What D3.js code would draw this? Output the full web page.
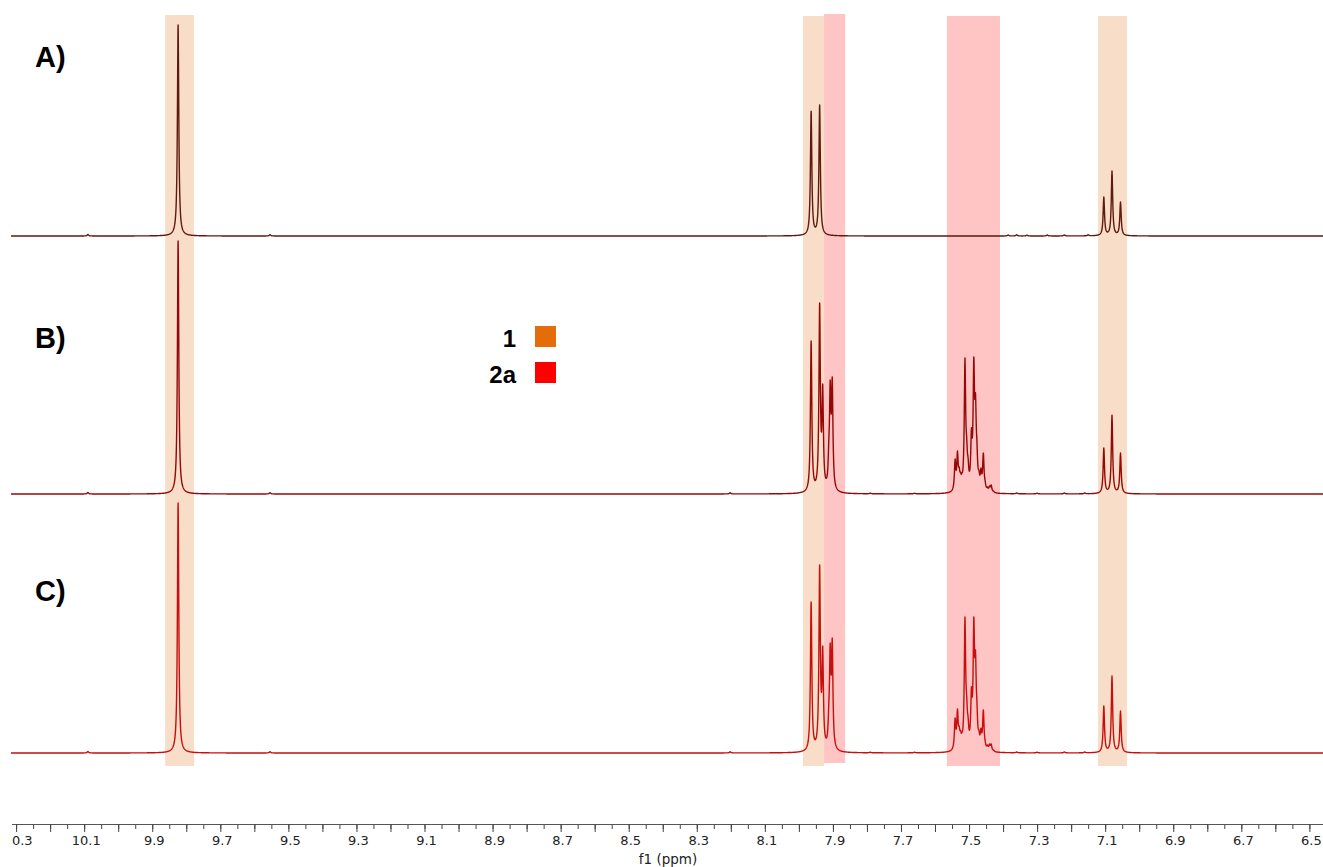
<!DOCTYPE html>
<html>
<head>
<meta charset="utf-8">
<script src="https://cdn.jsdelivr.net/npm/d3@7/dist/d3.min.js"></script>
<style>
  body { margin: 0; background: #fff; }
  svg { display: block; }
</style>
</head>
<body>
<svg id="chart" width="1323" height="867"></svg>
<script>
// ---- data -------------------------------------------------------------
// Peak lists: [chemical shift (ppm), relative intensity (singlet of A = 100)]
const spectrumLabels = ["A)", "B)", "C)"];

const peaksA = [
  [10.089, 0.7], [9.824, 100], [9.554, 0.6],
  [7.964, 59.2], [7.939, 62.1],
  [7.385, 0.5], [7.360, 0.6], [7.330, 0.4], [7.270, 0.5], [7.220, 0.5], [7.150, 0.6],
  [7.104, 18.5], [7.080, 30.8], [7.055, 16.1]
];

const peaksB = [
  [10.089, 0.7], [9.824, 119.9], [9.554, 0.6], [8.202, 0.6],
  [7.964, 72.5], [7.939, 90.5], [7.930, 52.1], [7.912, 26.1],
  [7.908, 54.0], [7.902, 55.5], [7.896, 5.7], [7.790, 0.4], [7.660, 0.4],
  [7.541, 16.6], [7.534, 20.4], [7.529, 12.8], [7.525, 10.4], [7.521, 10.0],
  [7.512, 64.5], [7.507, 27.0], [7.503, 17.5], [7.493, 31.3], [7.486, 64.9],
  [7.481, 47.9], [7.477, 25.6], [7.471, 11.4], [7.465, 12.3], [7.458, 19.4],
  [7.453, 6.6], [7.446, 3.3], [7.440, 3.8], [7.435, 4.3], [7.428, 1.4],
  [7.360, 0.5], [7.300, 0.4], [7.220, 0.5], [7.160, 0.5],
  [7.104, 21.8], [7.080, 37.4], [7.055, 19.4]
];

const peaksC = [
  [10.089, 0.7], [9.824, 118.5], [9.554, 0.6], [8.202, 0.6],
  [7.964, 71.6], [7.939, 89.1], [7.930, 50.7], [7.912, 24.2],
  [7.908, 52.1], [7.902, 54.5], [7.896, 6.2], [7.790, 0.4], [7.660, 0.4],
  [7.541, 16.6], [7.534, 20.9], [7.529, 12.8], [7.525, 10.7], [7.521, 9.8],
  [7.512, 64.5], [7.507, 27.5], [7.503, 17.5], [7.493, 31.3], [7.486, 64.5],
  [7.481, 48.8], [7.477, 25.1], [7.471, 10.9], [7.465, 11.8], [7.458, 20.4],
  [7.453, 6.2], [7.446, 3.8], [7.440, 4.3], [7.435, 4.3], [7.428, 1.4],
  [7.360, 0.5], [7.300, 0.4], [7.220, 0.5], [7.160, 0.5],
  [7.104, 22.3], [7.080, 36.5], [7.055, 19.9]
];

// Assignment regions (ppm from, ppm to) and the compound they belong to
const bandRanges = [[9.862, 9.777], [7.988, 7.926], [7.926, 7.864], [7.565, 7.409], [7.121, 7.036]];
const bandCompounds = ["1", "1", "2a", "2a", "1"];

const legendLabels = ["1", "2a"];

// Axis: major ticks every 0.1 ppm, minor every 0.05 ppm, labels on every other major
const axisTickValues = d3.range(103, 64, -1).map(v => v / 10);
const axisMinorValues = d3.range(207, 129, -1).map(v => v / 20);
const tickLabels = ["10.3", "10.1", "9.9", "9.7", "9.5", "9.3", "9.1", "8.9", "8.7", "8.5",
                    "8.3", "8.1", "7.9", "7.7", "7.5", "7.3", "7.1", "6.9", "6.7", "6.5"];
const axisTitle = "f1 (ppm)";

// ---- layout & style ---------------------------------------------------
const W = 1323, H = 867;
const plotLeft = 11, plotRight = 1323;
const baselines = [236, 494, 753];
const labelBaselines = [67, 348, 601];
const lineColors = ["#5e1a0e", "#960808", "#c80e0e"];
const compoundColors = { "1": "#e46c0a", "2a": "#ff0000" };
const bandFills = { "1": "#f8dec9", "2a": "#ffc4c4" };
const bandExtents = [[15, 766], [16, 766], [14, 763], [16, 766], [16, 766]];
const axisY = 824;
const hwhm = 0.0024; // Lorentzian half width (ppm)

const svg = d3.select("#chart");
const x = d3.scaleLinear().domain([10.315, 6.46]).range([plotLeft, plotRight]);

// ---- bands ------------------------------------------------------------
svg.append("g").selectAll("rect")
  .data(bandRanges)
  .join("rect")
  .attr("x", d => x(d[0]))
  .attr("width", d => x(d[1]) - x(d[0]))
  .attr("y", (d, i) => bandExtents[i][0])
  .attr("height", (d, i) => bandExtents[i][1] - bandExtents[i][0])
  .attr("fill", (d, i) => bandFills[bandCompounds[i]]);

// ---- spectra ----------------------------------------------------------
const lor = d => 1 / (1 + (d / hwhm) * (d / hwhm));

// amplitudes so that the summed line shape reaches each listed intensity
function amplitudes(peaks) {
  const a = peaks.map(p => p[1]);
  for (let it = 0; it < 300; it++) {
    for (let i = 0; i < peaks.length; i++) {
      let s = 0;
      for (let j = 0; j < peaks.length; j++) {
        if (j !== i) s += a[j] * lor(peaks[i][0] - peaks[j][0]);
      }
      a[i] = Math.max(0, peaks[i][1] - s);
    }
  }
  return a;
}

function lineShape(peaks) {
  const amps = amplitudes(peaks);
  const [d0, d1] = x.domain();
  const step = (d0 - d1) / ((plotRight - plotLeft) * 4);
  const pts = d3.range(d0, d1 - step / 2, -step).concat(peaks.map(p => p[0]));
  pts.sort((a, b) => b - a);
  return pts.map(p => {
    let s = 0;
    for (let j = 0; j < peaks.length; j++) s += amps[j] * lor(p - peaks[j][0]);
    return [p, s];
  });
}

[peaksA, peaksB, peaksC].forEach((peaks, i) => {
  const y = d3.scaleLinear().domain([0, 100]).range([baselines[i], baselines[i] - 211]);
  const line = d3.line().x(d => x(d[0])).y(d => y(d[1]));
  svg.append("path")
    .datum(lineShape(peaks))
    .attr("d", line)
    .attr("fill", "none")
    .attr("stroke", lineColors[i])
    .attr("stroke-width", 1.4)
    .attr("stroke-linejoin", "round");
});

// ---- panel labels -----------------------------------------------------
svg.append("g").selectAll("text")
  .data(spectrumLabels)
  .join("text")
  .attr("x", 35)
  .attr("y", (d, i) => labelBaselines[i])
  .attr("font-family", "'Liberation Sans', Arial, sans-serif")
  .attr("font-weight", "bold")
  .attr("font-size", 29)
  .attr("fill", "#000")
  .text(d => d);

// ---- legend -----------------------------------------------------------
const legend = svg.append("g").attr("transform", "translate(535,326)");
const items = legend.selectAll("g").data(legendLabels).join("g")
  .attr("transform", (d, i) => `translate(0,${i * 36})`);
items.append("rect")
  .attr("width", 21).attr("height", 21)
  .attr("fill", d => compoundColors[d]);
items.append("text")
  .attr("x", -19).attr("y", 21)
  .attr("text-anchor", "end")
  .attr("font-family", "'Liberation Sans', Arial, sans-serif")
  .attr("font-weight", "bold")
  .attr("font-size", 24)
  .attr("fill", "#000")
  .text(d => d);

// ---- axis -------------------------------------------------------------
svg.append("clipPath").attr("id", "axisClip")
  .append("rect").attr("x", plotLeft + 1).attr("y", 0).attr("width", plotRight - plotLeft).attr("height", H);

const axisG = svg.append("g").attr("clip-path", "url(#axisClip)");

const minorAxis = d3.axisBottom(x).tickValues(axisMinorValues).tickSize(5).tickSizeOuter(0).tickFormat("");
axisG.append("g").attr("transform", `translate(0,${axisY})`).call(minorAxis)
  .call(g => g.select(".domain").remove())
  .call(g => g.selectAll("line").attr("stroke", "#444"));

const labelMap = new Map(tickLabels.map(t => [Math.round(+t * 10), t]));
const majorAxis = d3.axisBottom(x).tickValues(axisTickValues).tickSize(8).tickSizeOuter(0)
  .tickFormat(v => labelMap.get(Math.round(v * 10)) || "");
axisG.append("g").attr("transform", `translate(0,${axisY})`).call(majorAxis)
  .call(g => g.select(".domain").attr("stroke", "#555"))
  .call(g => g.selectAll("line").attr("stroke", "#444"))
  .call(g => g.selectAll("text")
    .attr("font-family", "'DejaVu Sans', Verdana, sans-serif")
    .attr("font-size", 13)
    .attr("fill", "#222")
    .attr("dx", 1.5)
    .attr("dy", "0.9em")
    .attr("y", 9));

svg.append("text")
  .attr("x", 668).attr("y", 864)
  .attr("text-anchor", "middle")
  .attr("font-family", "'DejaVu Sans', Verdana, sans-serif")
  .attr("font-size", 13.5)
  .attr("fill", "#222")
  .text(axisTitle);
</script>
</body>
</html>
